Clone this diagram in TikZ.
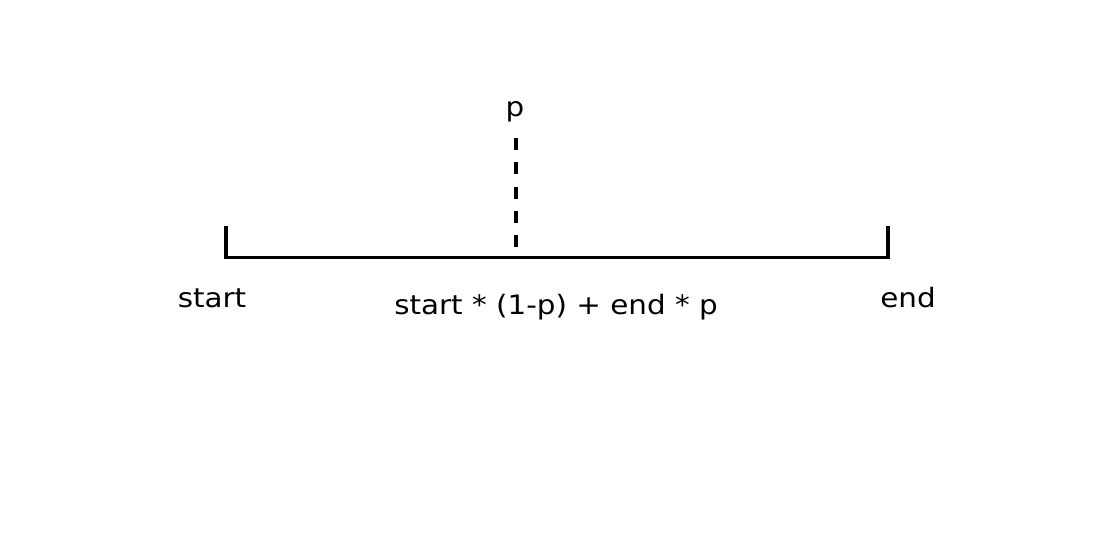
\documentclass[tikz,border=0pt]{standalone}
\usepackage{fontspec}
\setmainfont[FakeStretch=1.1]{DejaVu Sans}
\usetikzlibrary{positioning}
\tikzset{
  axisline/.style={line width=2.3pt, color=black},
  pline/.style={line width=2.5pt, color=black, dash pattern=on 0.3cm off 0.307cm},
  lbl/.style={font=\fontsize{19pt}{22pt}\selectfont, anchor=base, inner sep=0pt}
}
\begin{document}
\begin{tikzpicture}[x=0.025cm, y=-0.025cm]
  \useasboundingbox (0,0) rectangle (1098,534);
  % Interval ends
  \coordinate (s) at (226,257.5);
  \coordinate (e) at (888,257.5);
  \coordinate (stop) at (226,226);
  \coordinate (etop) at (888,226);
  % Point p
  \coordinate (pb) at (516,248);
  \coordinate (pt) at (516,138);

  % Labels
  \node[lbl] (plbl) at (515,116) {p};
  \node[lbl] (slbl) at (212,307) {start};
  \node[lbl] (elbl) at (908,307) {end};
  \node[lbl] (mlbl) at (556,314) {start * (1-p) + end * p};

  % Interval
  \draw[axisline] (stop) -- (s) -- (e) -- (etop);
  \draw[pline] (pt) -- (pb);
\end{tikzpicture}
\end{document}
